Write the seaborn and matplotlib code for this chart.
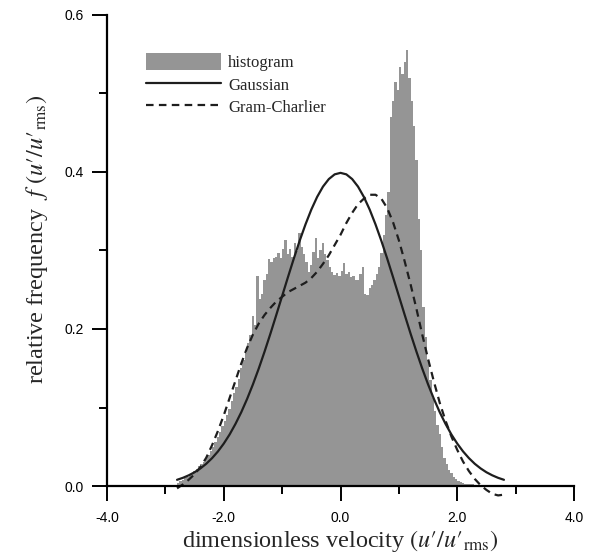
import numpy as np
import pandas as pd
import matplotlib
matplotlib.use("Agg")
import matplotlib.pyplot as plt
from matplotlib.patches import Patch
from matplotlib.lines import Line2D
from matplotlib.ticker import MultipleLocator, FormatStrFormatter
import seaborn as sns

# histogram: first bin edge, bin width and bar heights
hist_start = -2.80
hist_width = 0.04
hist_heights = [
    0.004, 0.006, 0.008, 0.010, 0.012, 0.014, 0.017, 0.019, 0.022, 0.025,
    0.028, 0.031, 0.035, 0.040, 0.044, 0.050, 0.056, 0.062, 0.069, 0.076,
    0.083, 0.090, 0.098, 0.108, 0.118, 0.126, 0.136, 0.150, 0.160, 0.170,
    0.182, 0.192, 0.216, 0.205, 0.267, 0.238, 0.245, 0.262, 0.270, 0.289,
    0.285, 0.290, 0.292, 0.297, 0.290, 0.302, 0.313, 0.296, 0.302, 0.292,
    0.310, 0.300, 0.322, 0.305, 0.296, 0.285, 0.273, 0.282, 0.298, 0.316,
    0.290, 0.300, 0.310, 0.296, 0.288, 0.279, 0.272, 0.269, 0.271, 0.268,
    0.274, 0.284, 0.270, 0.272, 0.266, 0.268, 0.262, 0.262, 0.270, 0.279,
    0.245, 0.243, 0.252, 0.256, 0.262, 0.270, 0.279, 0.297, 0.320, 0.345,
    0.375, 0.470, 0.490, 0.515, 0.505, 0.534, 0.525, 0.540, 0.556, 0.520,
    0.490, 0.458, 0.415, 0.340, 0.300, 0.228, 0.190, 0.160, 0.135, 0.112,
    0.095, 0.078, 0.066, 0.050, 0.036, 0.028, 0.021, 0.016, 0.012, 0.009,
    0.007, 0.005, 0.004, 0.003, 0.003, 0.002, 0.002, 0.001, 0.001, 0.001,
]

# fitted curves, sampled every 0.1 from -2.8 to 2.8
curve_x = [-2.8, -2.7, -2.6, -2.5, -2.4, -2.3, -2.2, -2.1, -2.0, -1.9,
           -1.8, -1.7, -1.6, -1.5, -1.4, -1.3, -1.2, -1.1, -1.0, -0.9,
           -0.8, -0.7, -0.6, -0.5, -0.4, -0.3, -0.2, -0.1, 0.0, 0.1,
           0.2, 0.3, 0.4, 0.5, 0.6, 0.7, 0.8, 0.9, 1.0, 1.1,
           1.2, 1.3, 1.4, 1.5, 1.6, 1.7, 1.8, 1.9, 2.0, 2.1,
           2.2, 2.3, 2.4, 2.5, 2.6, 2.7, 2.8]
gauss_y = [0.0079, 0.0104, 0.0136, 0.0175, 0.0224, 0.0283, 0.0355, 0.0440, 0.0540, 0.0656,
           0.0790, 0.0940, 0.1109, 0.1295, 0.1497, 0.1714, 0.1942, 0.2179, 0.2420, 0.2661,
           0.2897, 0.3123, 0.3332, 0.3521, 0.3683, 0.3814, 0.3910, 0.3970, 0.3989, 0.3970,
           0.3910, 0.3814, 0.3683, 0.3521, 0.3332, 0.3123, 0.2897, 0.2661, 0.2420, 0.2179,
           0.1942, 0.1714, 0.1497, 0.1295, 0.1109, 0.0940, 0.0790, 0.0656, 0.0540, 0.0440,
           0.0355, 0.0283, 0.0224, 0.0175, 0.0136, 0.0104, 0.0079]
gram_y = [-0.003, 0.002, 0.008, 0.015, 0.024, 0.036, 0.052, 0.070, 0.090, 0.112,
          0.134, 0.156, 0.176, 0.193, 0.207, 0.218, 0.227, 0.235, 0.241, 0.247,
          0.251, 0.255, 0.259, 0.265, 0.273, 0.283, 0.294, 0.307, 0.320, 0.335,
          0.348, 0.359, 0.366, 0.371, 0.371, 0.366, 0.354, 0.336, 0.313, 0.286,
          0.257, 0.226, 0.193, 0.162, 0.133, 0.106, 0.083, 0.063, 0.046, 0.031,
          0.019, 0.009, 0.001, -0.005, -0.010, -0.012, -0.011]

legend_labels = ["histogram", "Gaussian", "Gram-Charlier"]

sns.set_style("ticks")
plt.rcParams["font.family"] = ["Liberation Sans", "DejaVu Sans"]
plt.rcParams["mathtext.fontset"] = "stix"

hist_color = "#959595"
line_color = "#1e1e1e"

fig = plt.figure(figsize=(5.99, 5.59), dpi=100)
ax = fig.add_axes([107 / 599, 1 - 486 / 559, 467 / 599, 471 / 559])

n = len(hist_heights)
edges = np.linspace(hist_start, hist_start + n * hist_width, n + 1)
hist_df = pd.DataFrame({"u": (edges[:-1] + edges[1:]) / 2, "f": hist_heights})
sns.histplot(data=hist_df, x="u", weights="f", bins=edges.tolist(), ax=ax,
             color=hist_color, alpha=1, edgecolor="none", linewidth=0)

sns.lineplot(x=curve_x, y=gauss_y, ax=ax, color=line_color, lw=1.6,
             sort=False, clip_on=False)
sns.lineplot(x=curve_x, y=gram_y, ax=ax, color=line_color, lw=1.6,
             sort=False, clip_on=False, linestyle=(0, (3.4, 2.4)))

ax.set_xlim(-4, 4)
ax.set_ylim(0, 0.6)
sns.despine(ax=ax)
for s in ["left", "bottom"]:
    ax.spines[s].set_linewidth(1.6)
    ax.spines[s].set_color("black")

ax.xaxis.set_major_locator(MultipleLocator(2))
ax.xaxis.set_minor_locator(MultipleLocator(1))
ax.yaxis.set_major_locator(MultipleLocator(0.2))
ax.yaxis.set_minor_locator(MultipleLocator(0.1))
ax.xaxis.set_major_formatter(FormatStrFormatter("%.1f"))
ax.yaxis.set_major_formatter(FormatStrFormatter("%.1f"))
ax.tick_params(which="major", direction="out", length=11, width=1.4,
               labelsize=10, color="black", labelcolor="black")
ax.tick_params(which="minor", direction="out", length=6, width=1.4, color="black")
ax.tick_params(axis="x", which="major", pad=7)
ax.tick_params(axis="y", which="major", pad=6)

serif = ["Liberation Serif", "DejaVu Serif"]
ax.set_xlabel("dimensionless velocity $(u′/u′_{\\rm rms})$",
              family=serif, fontsize=17.5)
ax.set_ylabel("relative frequency  $f$ $(u′/u′_{\\rm rms})$",
              family=serif, fontsize=17.5)
ax.xaxis.set_label_coords(0.5, -0.09)
ax.yaxis.set_label_coords(-0.122, 0.524)

handles = [
    Patch(facecolor=hist_color, edgecolor="none"),
    Line2D([], [], color=line_color, lw=1.6),
    Line2D([], [], color=line_color, lw=1.6, linestyle=(0, (3.4, 2.4))),
]
ax.legend(handles, legend_labels, loc="upper left", bbox_to_anchor=(0.083, 0.919),
          frameon=False, borderpad=0, borderaxespad=0, handlelength=4.5,
          handleheight=1.14, labelspacing=0.28, handletextpad=0.45,
          prop={"family": serif, "size": 12})

fig.savefig("out.png", dpi=100, facecolor="white")
